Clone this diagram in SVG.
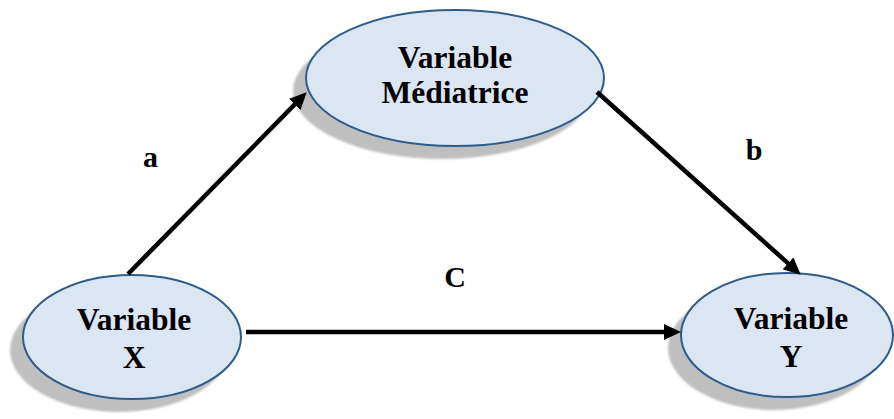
<svg xmlns="http://www.w3.org/2000/svg" width="894" height="419" viewBox="0 0 894 419">
  <style>
    .shadow { fill: #bfbfbf; }
    .node { fill: #dce6f2; stroke: #2f5c8a; stroke-width: 2; }
    .label { font-family: "Liberation Serif", "Times New Roman", serif; font-weight: bold; font-size: 31.5px; fill: #000; text-anchor: middle; }
    .edge-label { font-family: "Liberation Serif", "Times New Roman", serif; font-weight: bold; font-size: 30px; fill: #000; text-anchor: middle; }
    .edge { stroke: #000; stroke-width: 4.5; fill: none; marker-end: url(#arrow); }
  </style>
  <defs>
    <marker id="arrow" markerUnits="userSpaceOnUse" markerWidth="18" markerHeight="16" refX="8" refY="8" orient="auto">
      <path d="M0,0 L17,8 L0,16 z" fill="#000"/>
    </marker>
    <filter id="soft" x="-10%" y="-10%" width="120%" height="120%">
      <feGaussianBlur stdDeviation="0.8"/>
    </filter>
  </defs>

  <rect width="894" height="419" fill="#fff"/>

  <!-- Mediator node -->
  <g id="node-mediatrice">
    <ellipse class="shadow" cx="442" cy="91" rx="149" ry="68" filter="url(#soft)"/>
    <ellipse class="node" cx="455" cy="78" rx="149" ry="68"/>
    <text class="label" x="455" y="68">Variable</text>
    <text class="label" x="455" y="103">Médiatrice</text>
  </g>

  <!-- Independent variable -->
  <g id="node-x">
    <ellipse class="shadow" cx="119" cy="350" rx="109" ry="62" filter="url(#soft)"/>
    <ellipse class="node" cx="132" cy="337" rx="109" ry="62"/>
    <text class="label" x="134" y="330">Variable</text>
    <text class="label" x="134" y="368">X</text>
  </g>

  <!-- Dependent variable -->
  <g id="node-y">
    <ellipse class="shadow" cx="774" cy="348" rx="106" ry="62" filter="url(#soft)"/>
    <ellipse class="node" cx="787" cy="335" rx="106" ry="62"/>
    <text class="label" x="791" y="329">Variable</text>
    <text class="label" x="791" y="367">Y</text>
  </g>

  <!-- Paths between the variables -->
  <g id="connectors">
    <line class="edge" x1="128" y1="274" x2="300.4" y2="98.7"/>
    <line class="edge" x1="597" y1="92" x2="794" y2="268.7"/>
    <line class="edge" x1="246" y1="332" x2="672" y2="332"/>
    <text class="edge-label" x="150.5" y="167">a</text>
    <text class="edge-label" x="754" y="160">b</text>
    <text class="edge-label" x="455" y="287">C</text>
  </g>
</svg>
